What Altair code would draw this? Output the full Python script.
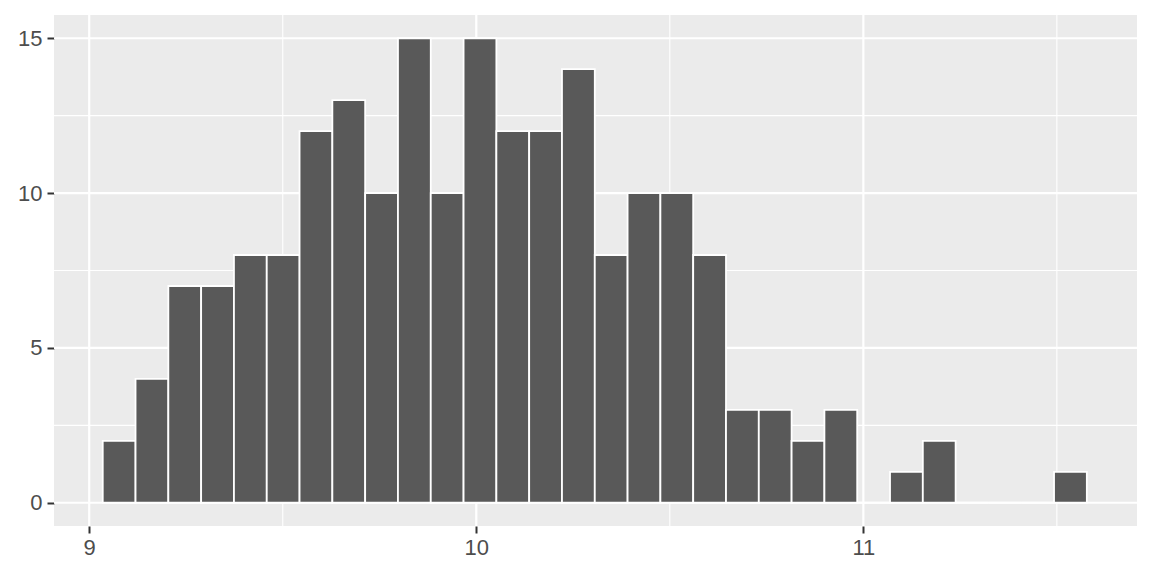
import altair as alt
import pandas as pd

# Histogram data (30 bins)
bin_first_edge = 9.0349
bin_width = 0.08475
counts = [2, 4, 7, 7, 8, 8, 12, 13, 10, 15, 10, 15, 12, 12, 14,
          8, 10, 10, 8, 3, 3, 2, 3, 0, 1, 2, 0, 0, 0, 1]

x_major = [9, 10, 11]
x_minor = [9.5, 10.5, 11.5]
y_major = [0, 5, 10, 15]
y_minor = [2.5, 7.5, 12.5]

x_domain = [8.909, 11.707]
y_domain = [-0.75, 15.75]

starts = [bin_first_edge + i * bin_width for i in range(len(counts))]
bars_df = pd.DataFrame({
    "x0": starts,
    "x1": [s + bin_width for s in starts],
    "count": counts,
})

xs = alt.Scale(domain=x_domain, nice=False, zero=False)
ys = alt.Scale(domain=y_domain, nice=False, zero=False)

x_axis = alt.Axis(values=x_major, title=None, grid=False, domain=False,
                  tickColor="#333333", tickWidth=2, tickSize=7,
                  labelColor="#4D4D4D", labelFontSize=22, labelPadding=4,
                  labelFont="Liberation Sans")
y_axis = alt.Axis(values=y_major, title=None, grid=False, domain=False,
                  tickColor="#333333", tickWidth=2, tickSize=7,
                  labelColor="#4D4D4D", labelFontSize=22, labelPadding=5,
                  labelFont="Liberation Sans")

vminor = alt.Chart(pd.DataFrame({"v": x_minor})).mark_rule(color="white", strokeWidth=1.1).encode(
    x=alt.X("v:Q", scale=xs, axis=x_axis))
vmajor = alt.Chart(pd.DataFrame({"v": x_major})).mark_rule(color="white", strokeWidth=2.2).encode(
    x=alt.X("v:Q", scale=xs, axis=x_axis))
hminor = alt.Chart(pd.DataFrame({"v": y_minor})).mark_rule(color="white", strokeWidth=1.1).encode(
    y=alt.Y("v:Q", scale=ys, axis=y_axis))
hmajor = alt.Chart(pd.DataFrame({"v": y_major})).mark_rule(color="white", strokeWidth=2.2).encode(
    y=alt.Y("v:Q", scale=ys, axis=y_axis))

bars = alt.Chart(bars_df).mark_rect(color="#595959", stroke="white", strokeWidth=1.8).encode(
    x=alt.X("x0:Q", scale=xs, axis=x_axis),
    x2="x1:Q",
    y=alt.Y("count:Q", scale=ys, axis=y_axis),
    y2=alt.datum(0),
)

chart = alt.layer(vminor, hminor, vmajor, hmajor, bars).properties(
    width=1083, height=511,
    autosize=alt.AutoSizeParams(type="none"),
    padding={"left": 46, "top": 7, "right": 7, "bottom": 42},
    background="white",
).configure_view(fill="#EBEBEB", stroke=None)

chart.save("out.html", embed_options={"renderer": "svg", "actions": False})
